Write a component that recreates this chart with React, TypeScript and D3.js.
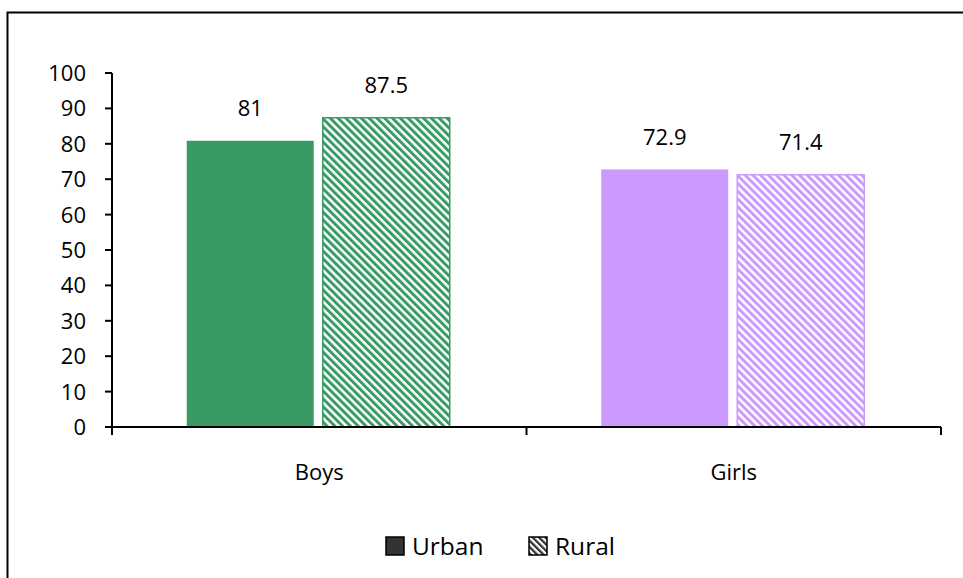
import React from "react";
import * as d3 from "d3";

const categories = ["Boys", "Girls"];
const seriesNames = ["Urban", "Rural"];
const urbanValues = [81, 72.9];
const ruralValues = [87.5, 71.4];
const valueLabels = [["81", "72.9"], ["87.5", "71.4"]];
const yTicks = [0, 10, 20, 30, 40, 50, 60, 70, 80, 90, 100];
const colors = ["#389B66", "#CC99FF"];

const FONT = "'Open Sans', sans-serif";
const FS = 22;
const LFS = 24.5;

export default function App() {
  const W = 963, H = 578;
  const x0 = 112, x1 = 941, yBase = 427, yTop = 73;
  const x = d3.scaleBand<string>().domain(categories).range([x0, x1]);
  const y = d3.scaleLinear().domain([0, 100]).range([yBase, yTop]);
  const barW = 128, gap = 8;
  const series = [urbanValues, ruralValues];

  return (
    <svg width={W} height={H} style={{ position: "absolute", left: 0, top: 0 }}>
      <defs>
        {colors.map((c, i) => (
          <pattern key={i} id={`hatch${i}`} patternUnits="userSpaceOnUse" width={5.5} height={5.5} patternTransform="rotate(-45)">
            <rect width={5.5} height={5.5} fill="#fff" />
            <rect x={0} y={0} width={3} height={5.5} fill={c} />
          </pattern>
        ))}
        <pattern id="hatchLegend" patternUnits="userSpaceOnUse" width={4.5} height={4.5} patternTransform="rotate(-45)">
          <rect width={4.5} height={4.5} fill="#fff" />
          <rect x={0} y={0} width={2.3} height={4.5} fill="#333" />
        </pattern>
      </defs>
      <rect x={0} y={0} width={W} height={H} fill="#fff" />
      <path d={`M7.5,${H} V12.5 H${W}`} fill="none" stroke="#000" strokeWidth={2} />

      {categories.map((cat, ci) => {
        const center = (x(cat) as number) + x.bandwidth() / 2 - 1;
        return series.map((vals, si) => {
          const left = center - gap / 2 - barW + si * (barW + gap);
          const top = y(vals[ci]);
          return (
            <g key={`${ci}-${si}`}>
              <rect
                x={left + 0.5}
                y={top + 0.5}
                width={barW - 1}
                height={yBase - top - 0.5}
                fill={si === 0 ? colors[ci] : `url(#hatch${ci})`}
                stroke={colors[ci]}
                strokeWidth={si === 0 ? 0 : 1.5}
              />
              <text
                x={left + barW / 2}
                y={top - 24}
                textAnchor="middle"
                fontFamily={FONT}
                fontSize={FS}
                fill="#000"
              >
                {valueLabels[si][ci]}
              </text>
            </g>
          );
        });
      })}

      {/* y axis */}
      <line x1={x0} x2={x0} y1={yTop} y2={yBase} stroke="#000" strokeWidth={2} />
      {yTicks.map((t) => (
        <g key={t}>
          <line x1={x0 - 7} x2={x0} y1={y(t)} y2={y(t)} stroke="#000" strokeWidth={2} />
          <text x={x0 - 26} y={y(t)} dy="0.36em" textAnchor="end" fontFamily={FONT} fontSize={FS} fill="#000">
            {t}
          </text>
        </g>
      ))}

      {/* x axis */}
      <line x1={x0 - 7} x2={x1} y1={yBase} y2={yBase} stroke="#000" strokeWidth={2} />
      {[x0, ...categories.map((c) => (x(c) as number) + x.bandwidth())].map((px, i) => (
        <line key={i} x1={px} x2={px} y1={yBase} y2={yBase + 8} stroke="#000" strokeWidth={2} />
      ))}
      {categories.map((c) => (
        <text key={c} x={(x(c) as number) + x.bandwidth() / 2} y={480} textAnchor="middle" fontFamily={FONT} fontSize={FS} fill="#000">
          {c}
        </text>
      ))}

      {/* legend */}
      <g>
        <rect x={386} y={537} width={18} height={18} fill="#333" stroke="#000" strokeWidth={1.5} />
        <text x={412} y={555} fontFamily={FONT} fontSize={LFS} fill="#000">{seriesNames[0]}</text>
        <rect x={529} y={537} width={18} height={18} fill="url(#hatchLegend)" stroke="#000" strokeWidth={1.5} />
        <text x={555} y={555} fontFamily={FONT} fontSize={LFS} fill="#000">{seriesNames[1]}</text>
      </g>
    </svg>
  );
}
